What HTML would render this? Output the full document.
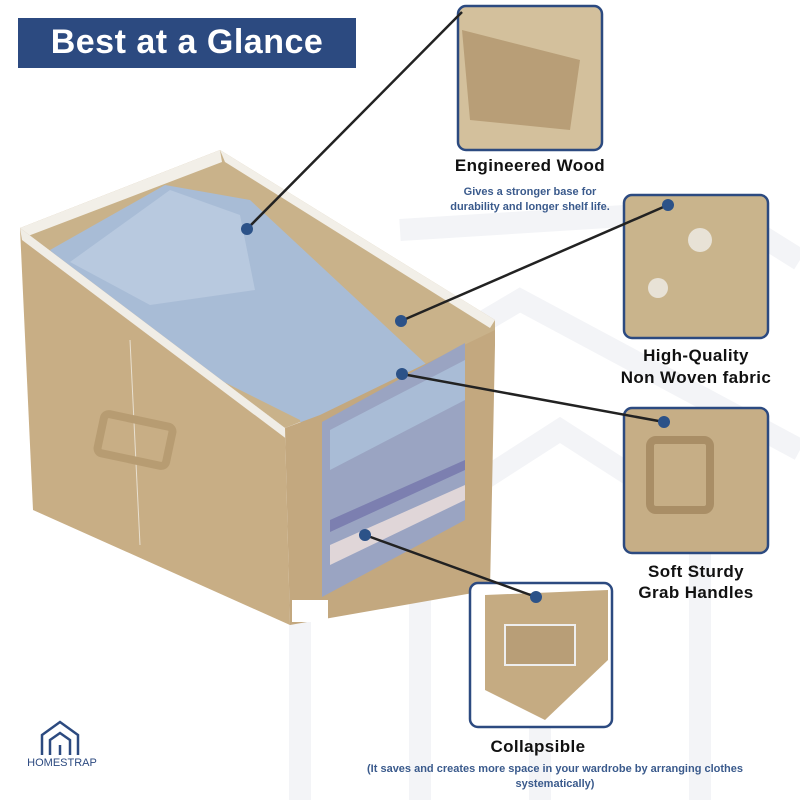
<!DOCTYPE html>
<html><head><style>
body{margin:0;width:800px;height:800px;background:#fff;position:relative;overflow:hidden;font-family:"Liberation Sans",sans-serif}
.t{position:absolute;text-align:center;font-weight:bold;color:#111}
</style></head><body>
<svg width="800" height="800" style="position:absolute;left:0;top:0">
<g fill="none" stroke="#f3f4f7" stroke-width="22">
<path d="M400 230 L720 210 L800 260"/>
<path d="M300 800 L300 430 L520 300 L800 450"/>
<path d="M420 800 L420 520 L560 430 L700 520 L700 800"/>
<path d="M540 800 L540 640"/>
</g>
<rect x="18" y="18" width="338" height="50" fill="#2c4a80"/>
<polygon points="20,228 220,150 495,320 495,345 285,428" fill="#c9b28a"/>
<polygon points="220,150 225,162 490,328 495,320" fill="#f2efe8"/>
<polygon points="220,150 20,228 28,236 222,162" fill="#f2efe8"/>
<polygon points="50,250 165,185 250,200 470,405 470,510 330,560 300,420 120,330" fill="#a8bcd6"/>
<polygon points="70,262 170,190 240,215 255,290 150,305" fill="#b8c9df"/>
<polygon points="330,440 470,400 470,520 330,590" fill="#8b8fb8"/>
<polygon points="330,520 470,460 470,480 330,545" fill="#a7b6a6"/>
<polygon points="330,545 470,480 470,500 330,570" fill="#d9c8d8"/>
<polygon points="20,228 285,428 290,625 33,510" fill="#c8ae85"/>
<polygon points="20,228 285,428 288,440 22,240" fill="#f0ede6"/>
<path d="M130 340 L140 545" stroke="#e8e0d0" stroke-width="1"/>
<rect x="100" y="420" width="70" height="40" rx="5" fill="none" stroke="#b79c72" stroke-width="8" transform="rotate(12 135 440)"/>
<polygon points="285,428 320,415 495,330 495,345 490,590 290,625" fill="#c3a87f"/>
<polygon points="322,422 465,343 465,520 322,597" fill="#9aa4c2"/>
<polygon points="330,430 465,360 465,400 330,470" fill="#a9bcd6"/>
<polygon points="330,520 465,460 465,470 330,532" fill="#7c7fb0"/>
<polygon points="330,545 465,485 465,500 330,565" fill="#e0d6d8"/>
<rect x="292" y="600" width="36" height="22" fill="#fff"/>
<g stroke="#2c4a80" stroke-width="2.5">
<rect x="458" y="6" width="144" height="144" rx="8" fill="#d3c09c"/>
<rect x="624" y="195" width="144" height="143" rx="8" fill="#c9b48c"/>
<rect x="624" y="408" width="144" height="145" rx="8" fill="#c6ae86"/>
<rect x="470" y="583" width="142" height="144" rx="8" fill="#fff"/>
</g>
<polygon points="462,30 580,60 570,130 470,120" fill="#b89e77"/>
<circle cx="700" cy="240" r="12" fill="#e8e2d6"/><circle cx="658" cy="288" r="10" fill="#e8e2d6"/>
<rect x="650" y="440" width="60" height="70" rx="6" fill="none" stroke="#a98e66" stroke-width="8"/>
<polygon points="485,595 608,590 608,660 545,720 485,690" fill="#c5ab82"/>
<rect x="505" y="625" width="70" height="40" fill="#b89e77" stroke="#eee" stroke-width="2"/>
<g stroke="#222" stroke-width="2.5">
<line x1="247" y1="229" x2="462" y2="12"/>
<line x1="401" y1="321" x2="668" y2="205"/>
<line x1="402" y1="374" x2="664" y2="422"/>
<line x1="365" y1="535" x2="536" y2="597"/>
</g>
<g fill="#2c5288">
<circle cx="247" cy="229" r="6"/><circle cx="401" cy="321" r="6"/><circle cx="402" cy="374" r="6"/><circle cx="365" cy="535" r="6"/>
<circle cx="668" cy="205" r="6"/><circle cx="664" cy="422" r="6"/><circle cx="536" cy="597" r="6"/>
</g>
<g fill="none" stroke="#2c4a80" stroke-width="2.5">
<path d="M42 755 L42 735 L60 722 L78 735 L78 755"/><path d="M50 755 L50 740 L60 733 L70 740 L70 755"/><path d="M60 755 L60 745"/>
</g>
</svg>
<div style="position:absolute;left:18px;top:18px;width:338px;height:50px;line-height:48px;color:#fff;font-weight:bold;font-size:34px;text-align:center;letter-spacing:0.5px">Best at a Glance</div>
<div class="t" style="left:430px;top:156px;width:200px;font-size:17px;letter-spacing:0.4px">Engineered Wood</div>
<div class="t" style="left:450px;top:185px;width:160px;font-size:11px;color:#3a5a8c;line-height:15px">Gives a stronger base for durability and longer shelf life.</div>
<div class="t" style="left:596px;top:345px;width:200px;font-size:17px;line-height:22px;letter-spacing:0.4px">High-Quality<br>Non Woven fabric</div>
<div class="t" style="left:596px;top:561px;width:200px;font-size:17px;line-height:21px;letter-spacing:0.4px">Soft Sturdy<br>Grab Handles</div>
<div class="t" style="left:438px;top:737px;width:200px;font-size:17px;letter-spacing:0.4px">Collapsible</div>
<div class="t" style="left:330px;top:762px;width:450px;font-size:11px;color:#3a5a8c;line-height:15px">(It saves and creates more space in your wardrobe by arranging clothes systematically)</div>
<div style="position:absolute;left:22px;top:757px;width:80px;text-align:center;font-size:11px;color:#2c4a80">HOMESTRAP</div>
</body></html>
